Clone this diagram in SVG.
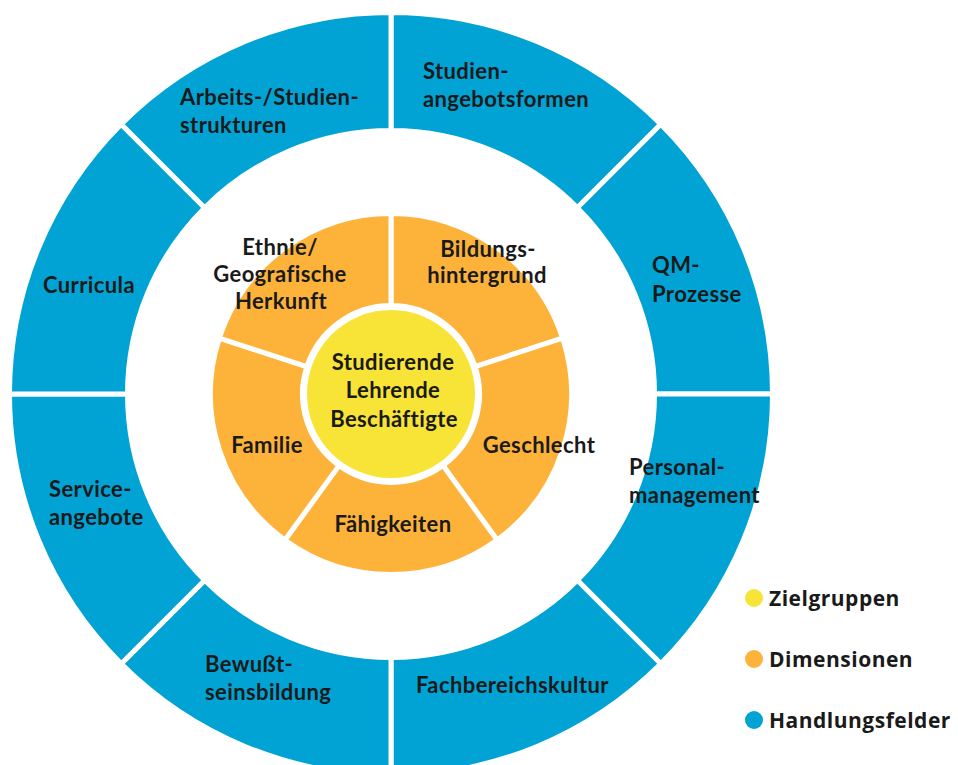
<svg xmlns="http://www.w3.org/2000/svg" width="958" height="765" viewBox="0 0 958 765">
<style>
.seg{fill:#00A3D4;stroke:#fff;stroke-width:5;stroke-linejoin:miter}
.dim{fill:#FDB33A;stroke:#fff;stroke-width:5}
.lbl{font-family:Lato,"Liberation Sans",sans-serif;font-weight:700;font-size:22px;letter-spacing:0.4px;fill:#1a1a1a}
.c{text-anchor:middle}
.leg{font-family:"Open Sans","Liberation Sans",sans-serif;font-weight:700;font-size:21px;letter-spacing:0.5px;fill:#1a1a1a}
</style>
<rect width="958" height="765" fill="#fff"/>
<g id="handlungsfelder">
<g id="seg-studienangebotsformen">
<path class="seg" d="M391,12.5 A381.5,381.5 0 0 1 660.76,124.24 L577.32,207.68 A263.5,263.5 0 0 0 391,130.5 Z"/>
<text class="lbl" x="423" y="79">Studien-</text>
<text class="lbl" x="423" y="107">angebotsformen</text>
</g>
<g id="seg-qm">
<path class="seg" d="M660.76,124.24 A381.5,381.5 0 0 1 772.5,394 L654.5,394 A263.5,263.5 0 0 0 577.32,207.68 Z"/>
<text class="lbl" x="652" y="273">QM-</text>
<text class="lbl" x="652" y="302">Prozesse</text>
</g>
<g id="seg-personal">
<path class="seg" d="M772.5,394 A381.5,381.5 0 0 1 660.76,663.76 L577.32,580.32 A263.5,263.5 0 0 0 654.5,394 Z"/>
<text class="lbl" x="629" y="475">Personal-</text>
<text class="lbl" x="629" y="503">management</text>
</g>
<g id="seg-fachbereich">
<path class="seg" d="M660.76,663.76 A381.5,381.5 0 0 1 391,775.5 L391,657.5 A263.5,263.5 0 0 0 577.32,580.32 Z"/>
<text class="lbl" x="416" y="693">Fachbereichskultur</text>
</g>
<g id="seg-bewusstsein">
<path class="seg" d="M391,775.5 A381.5,381.5 0 0 1 121.24,663.76 L204.68,580.32 A263.5,263.5 0 0 0 391,657.5 Z"/>
<text class="lbl" x="205" y="672">Bewußt-</text>
<text class="lbl" x="205" y="700">seinsbildung</text>
</g>
<g id="seg-service">
<path class="seg" d="M121.24,663.76 A381.5,381.5 0 0 1 9.5,394 L127.5,394 A263.5,263.5 0 0 0 204.68,580.32 Z"/>
<text class="lbl" x="49" y="497">Service-</text>
<text class="lbl" x="49" y="525">angebote</text>
</g>
<g id="seg-curricula">
<path class="seg" d="M9.5,394 A381.5,381.5 0 0 1 121.24,124.24 L204.68,207.68 A263.5,263.5 0 0 0 127.5,394 Z"/>
<text class="lbl" x="43" y="293">Curricula</text>
</g>
<g id="seg-arbeits">
<path class="seg" d="M121.24,124.24 A381.5,381.5 0 0 1 391,12.5 L391,130.5 A263.5,263.5 0 0 0 204.68,207.68 Z"/>
<text class="lbl" x="180" y="105">Arbeits-/Studien-</text>
<text class="lbl" x="180" y="133">strukturen</text>
</g>
</g>
<g id="dimensionen">
<g id="dim-bildung">
<path class="dim" d="M391,213.5 A180.5,180.5 0 0 1 562.67,338.22 L475.17,366.65 A88.5,88.5 0 0 0 391,305.5 Z"/>
<text class="lbl c" x="488" y="257">Bildungs-</text>
<text class="lbl c" x="487" y="283">hintergrund</text>
</g>
<g id="dim-geschlecht">
<path class="dim" d="M562.67,338.22 A180.5,180.5 0 0 1 497.10,540.03 L443.02,465.60 A88.5,88.5 0 0 0 475.17,366.65 Z"/>
<text class="lbl c" x="539" y="453">Geschlecht</text>
</g>
<g id="dim-faehigkeiten">
<path class="dim" d="M497.10,540.03 A180.5,180.5 0 0 1 284.90,540.03 L338.98,465.60 A88.5,88.5 0 0 0 443.02,465.60 Z"/>
<text class="lbl c" x="393" y="532">Fähigkeiten</text>
</g>
<g id="dim-familie">
<path class="dim" d="M284.90,540.03 A180.5,180.5 0 0 1 219.33,338.22 L306.83,366.65 A88.5,88.5 0 0 0 338.98,465.60 Z"/>
<text class="lbl c" x="267" y="453">Familie</text>
</g>
<g id="dim-ethnie">
<path class="dim" d="M219.33,338.22 A180.5,180.5 0 0 1 391,213.5 L391,305.5 A88.5,88.5 0 0 0 306.83,366.65 Z"/>
<text class="lbl c" x="280" y="255">Ethnie/</text>
<text class="lbl c" x="280" y="282">Geografische</text>
<text class="lbl c" x="281" y="309">Herkunft</text>
</g>
</g>
<g id="zielgruppen">
<circle cx="391" cy="394" r="84" fill="#F7E436"/>
<text class="lbl c" x="393" y="370">Studierende</text>
<text class="lbl c" x="393" y="398">Lehrende</text>
<text class="lbl c" x="394" y="427">Beschäftigte</text>
</g>
<g id="legend">
<g id="leg-ziel"><circle cx="754" cy="598" r="9" fill="#F7E436"/><text class="leg" x="769" y="606">Zielgruppen</text></g>
<g id="leg-dim"><circle cx="754" cy="659" r="9" fill="#FDB33A"/><text class="leg" x="769" y="667">Dimensionen</text></g>
<g id="leg-hand"><circle cx="754" cy="720" r="9" fill="#00A3D4"/><text class="leg" x="769" y="728">Handlungsfelder</text></g>
</g>
<g id="connectors"/>
</svg>
